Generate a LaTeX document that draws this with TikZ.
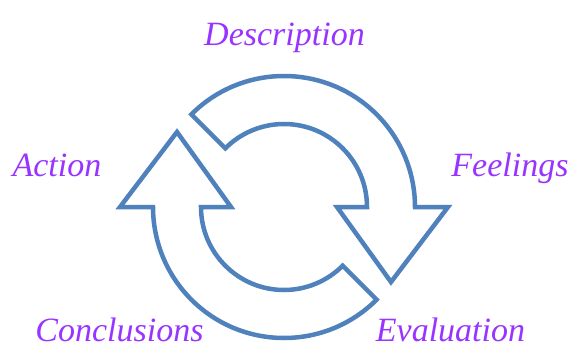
\documentclass[tikz,border=0pt]{standalone}
\usepackage{fontspec}
\setmainfont{Liberation Serif}
\usepackage{tikz}
\usetikzlibrary{shadows}

\definecolor{cycleblue}{RGB}{79,129,189}
\definecolor{stagepurple}{RGB}{153,51,255}

\tikzset{
	cyclearrow/.style={draw=cycleblue, line width=4.5pt, fill=white,
		drop shadow={shadow xshift=1.5pt, shadow yshift=-1.5pt, opacity=0.2}},
	stage/.style={text=stagepurple, font=\fontsize{34}{40}\selectfont\itshape, anchor=base, inner sep=0pt}
}

\begin{document}
\begin{tikzpicture}[x=1pt, y=1pt]
				\useasboundingbox (0,0) rectangle (571,349);
				\coordinate (C) at (284,142);
				
				% upper arrow, pointing down on the right
				\draw[cyclearrow, shift={(C)}] (135:131) arc[start angle=135, end angle=0, radius=131] -- (164,0) -- (107,-75) -- (53,0) -- (83,0) arc[start angle=0, end angle=135, radius=83] -- cycle;
				% lower arrow, pointing up on the left
				\draw[cyclearrow, shift={(C)}] (-45:131) arc[start angle=-45, end angle=-180, radius=131] -- (-164,0) -- (-107,75) -- (-53,0) -- (-83,0) arc[start angle=180, end angle=315, radius=83] -- cycle;
				
				\node[stage] (description) at (284.5,303) {Description};
				\node[stage] (feelings) at (510,173) {Feelings};
				\node[stage] (evaluation) at (450.5,8) {Evaluation};
				\node[stage] (conclusions) at (119.5,8) {Conclusions};
				\node[stage] (action) at (57,173) {Action};
			\end{tikzpicture}
\end{document}
